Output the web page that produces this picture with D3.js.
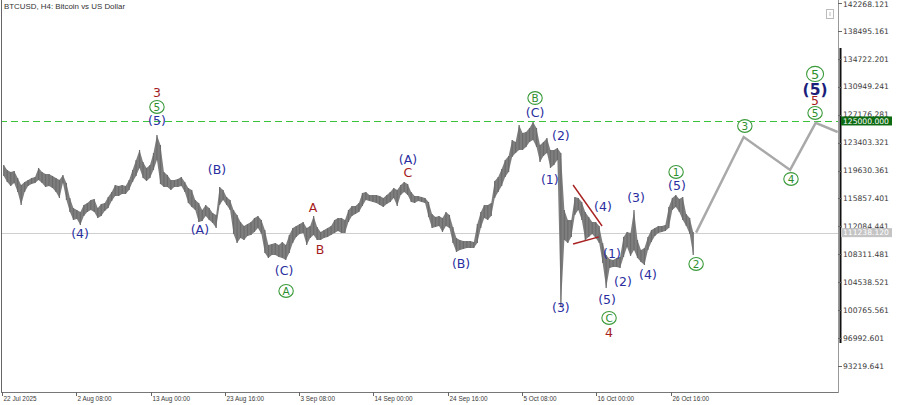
<!DOCTYPE html>
<html>
<head>
<meta charset="utf-8">
<script src="https://cdn.jsdelivr.net/npm/d3@7"></script>
<style>
body { margin: 0; background: #fff; }
svg { display: block; font-family: "Liberation Sans", Arial, sans-serif; }
</style>
</head>
<body>
<svg id="chart" width="900" height="405"></svg>
<script>
// BTCUSD H4 with Elliott wave marks, drawn as 12h high/low bars

var symbolTitle = "BTCUSD, H4:  Bitcoin vs US Dollar";
var firstBar = Date.UTC(2025, 6, 22, 16);
var barHours = 12;

// 12h highs and lows
var highs = [120380,119710,119440,119570,118630,117680,118090,118360,118630,118760,
  119980,119440,119170,119170,118900,118630,118360,119030,117950,115920,
  114570,114300,114030,114980,115250,115650,115790,114570,115110,115250,
  116060,116730,117680,117550,117680,117550,118360,119710,121060,122410,
  120790,119980,120380,122000,124430,123080,119440,119030,118360,118360,
  118490,118760,118090,117280,117000,115650,115250,114300,114980,114570,
  113900,113630,117410,117000,116060,115650,114300,113630,112680,112140,
  112410,112680,113220,113490,112950,111600,109570,109710,109840,109570,
  109980,109570,110930,111870,112140,112410,112680,111870,112140,113490,
  112010,111330,111600,111870,112140,112950,113220,113220,112950,114300,
  114840,114840,115250,116600,116730,116330,116330,116330,116190,115920,
  116330,116730,117280,117000,117680,118090,117820,116730,116190,116190,
  116060,115920,115380,113760,113360,113490,113220,114030,113630,112010,
  110520,110250,110110,110110,110110,109980,112410,114030,114980,114980,
  115250,118220,118760,119840,121060,121600,123760,123490,125790,124700,
  124840,125380,126190,125380,123080,123490,124030,122410,122410,122680,
  122000,114300,112950,112950,116060,115920,115380,114030,113360,112680,
  112680,112140,109840,108220,107680,107550,107820,107950,110660,111330,
  111200,114300,110250,108900,109170,110660,111600,111870,112140,112140,
  112280,114710,115920,116330,115790,116060,113760,113220,111330];

var lows = [118900,118090,117550,117950,116730,114980,116730,117550,117820,117950,
  118360,117950,117410,117550,117280,116730,115920,117950,115650,114030,
  112950,113090,112280,113490,114030,114300,114030,113220,113490,114170,
  114570,115520,116190,116190,116460,116460,117000,118090,118900,119980,
  118630,118220,118630,119710,121060,117820,117410,117410,117000,117410,
  117410,117550,116730,115250,114710,114300,112680,112820,113490,112950,
  112550,111870,114980,115650,114980,114300,111060,109840,110520,110250,
  110790,110930,111330,111870,111060,108490,107820,108220,108220,107950,
  107820,107550,108490,109840,110660,111060,111200,109570,110520,110930,
  110250,110250,110520,110660,110930,111200,111470,111200,111200,112680,
  113490,113760,114030,114840,115650,115520,115380,115250,114980,114710,
  115110,115380,115920,114840,116330,116730,116330,115380,115250,115520,
  115380,115250,113360,111870,112010,112140,111330,112140,111870,109840,
  108630,108900,109030,109170,109170,109170,109840,111870,113220,112950,
  113490,115920,116730,117550,118760,119440,121460,122000,122410,122410,
  122810,123490,123760,122810,120790,121600,122000,119980,120380,121060,
  101200,110250,109840,110660,113630,114300,112950,110250,110660,111060,
  110520,109840,107140,103760,106470,106600,106600,106470,107950,109300,
  108090,108900,107820,107280,106870,108900,109980,110790,111200,111330,
  111470,111870,114300,114710,114030,112950,112140,111060,108220];

var lastPrice = 111238.12;
var levelPrice = 126330;
var levelText = "125000.000";

var priceTicks = d3.range(14).map(function (i) { return 93219.641 + i * 3772.96; });

var timeTicks = ["2025-07-22T16:00Z", "2025-08-02T08:00Z", "2025-08-13T00:00Z", "2025-08-23T16:00Z",
  "2025-09-03T08:00Z", "2025-09-14T00:00Z", "2025-09-24T16:00Z", "2025-10-05T08:00Z",
  "2025-10-16T00:00Z", "2025-10-26T16:00Z"];

// forecast path (grey)
var forecast = [["2025-10-30T08:00Z", 111238.12], ["2025-11-06T04:00Z", 124160],
  ["2025-11-12T20:00Z", 119710], ["2025-11-16T12:00Z", 126060], ["2025-11-19T16:00Z", 124840]];

// wave labels: [time, price, text]
var blueLabels = [
  ["2025-08-13T22:00Z", 126330, "(5)"], ["2025-08-02T21:00Z", 111060, "(4)"],
  ["2025-08-20T02:00Z", 111600, "(A)"], ["2025-08-22T13:00Z", 119710, "(B)"],
  ["2025-09-01T04:00Z", 106060, "(C)"], ["2025-09-18T23:00Z", 121060, "(A)"],
  ["2025-09-26T14:00Z", 107010, "(B)"], ["2025-10-07T05:00Z", 127540, "(C)"],
  ["2025-10-10T22:00Z", 124300, "(2)"], ["2025-10-09T08:00Z", 118360, "(1)"],
  ["2025-10-10T22:00Z", 101060, "(3)"], ["2025-10-16T23:00Z", 114710, "(4)"],
  ["2025-10-18T06:00Z", 108360, "(1)"], ["2025-10-19T20:00Z", 104580, "(2)"],
  ["2025-10-17T13:00Z", 102140, "(5)"], ["2025-10-21T17:00Z", 115920, "(3)"],
  ["2025-10-23T10:00Z", 105520, "(4)"], ["2025-10-27T14:00Z", 117550, "(5)"]
];
var redLabels = [
  ["2025-08-13T22:00Z", 130110, "3"], ["2025-09-05T08:00Z", 114570, "A"],
  ["2025-09-06T08:00Z", 108900, "B"], ["2025-09-18T23:00Z", 119300, "C"],
  ["2025-10-17T20:00Z", 97690, "4"], ["2025-11-16T10:00Z", 129030, "5"]
];
var greenCircles = [
  ["2025-08-13T22:00Z", 128220, "5"], ["2025-09-01T11:00Z", 103360, "A"],
  ["2025-10-07T05:00Z", 129430, "B"], ["2025-10-17T20:00Z", 99710, "C"],
  ["2025-10-27T11:00Z", 119440, "1"], ["2025-10-30T08:00Z", 107010, "2"],
  ["2025-11-06T08:00Z", 125650, "3"], ["2025-11-12T23:00Z", 118490, "4"],
  ["2025-11-16T10:00Z", 127410, "5"]
];
var majorLabels = [["2025-11-16T10:00Z", 130650, "(5)"]];
var majorCircles = [["2025-11-16T10:00Z", 132680, "5"]];

// red triangle lines
var trendLines = [
  [["2025-10-12T16:00Z", 117680], ["2025-10-16T20:00Z", 112140]],
  [["2025-10-12T16:00Z", 109710], ["2025-10-16T09:00Z", 110660]]
];

var width = 900, height = 405;
var plotRight = 838, plotBottom = 392;

var x = d3.scaleUtc()
  .domain([firstBar, firstBar + 2881 * 3600e3])
  .range([2, plotRight]);
var y = d3.scaleLinear()
  .domain([93219.641, 142268.121])
  .range([366, 3]);

var svg = d3.select("#chart");

svg.append("defs").append("clipPath").attr("id", "plot")
  .append("rect").attr("x", 2).attr("y", 0).attr("width", plotRight - 2).attr("height", plotBottom);

var plot = svg.append("g").attr("clip-path", "url(#plot)");

// current price line
plot.append("line")
  .attr("x1", 0).attr("x2", plotRight)
  .attr("y1", Math.round(y(lastPrice)) + 0.5).attr("y2", Math.round(y(lastPrice)) + 0.5)
  .attr("stroke", "#cfcfcf");

// level line
plot.append("line")
  .attr("x1", 0).attr("x2", plotRight)
  .attr("y1", Math.round(y(levelPrice)) + 0.5).attr("y2", Math.round(y(levelPrice)) + 0.5)
  .attr("stroke", "#3cc13c").attr("stroke-dasharray", "7,4");

// bars: a thin ribbon through the bar centres plus a high-low stroke per bar
var half = barHours * 3600e3 / 2;
var bars = highs.map(function (h, i) {
  return { t: firstBar + i * barHours * 3600e3 + half, high: h, low: lows[i] };
});
plot.append("path")
  .datum(bars)
  .attr("fill", "#7e7e7e")
  .attr("d", d3.area()
    .x(function (d) { return x(d.t); })
    .y0(function (d) { return y(d.low); })
    .y1(function (d) { return y(d.high); }));
plot.selectAll(".bar")
  .data(bars)
  .enter().append("line")
  .attr("class", "bar")
  .attr("x1", function (d) { return x(d.t); })
  .attr("x2", function (d) { return x(d.t); })
  .attr("y1", function (d) { return y(d.high); })
  .attr("y2", function (d) { return y(d.low); })
  .attr("stroke", "#6c6c6c")
  .attr("stroke-width", 1.2);

// forecast
plot.append("path")
  .datum(forecast)
  .attr("fill", "none")
  .attr("stroke", "#a9a9a9")
  .attr("stroke-width", 2.5)
  .attr("d", d3.line()
    .x(function (d) { return x(new Date(d[0])); })
    .y(function (d) { return y(d[1]); }));

// triangle
plot.selectAll(".tri")
  .data(trendLines)
  .enter().append("line")
  .attr("class", "tri")
  .attr("x1", function (d) { return x(new Date(d[0][0])); })
  .attr("y1", function (d) { return y(d[0][1]); })
  .attr("x2", function (d) { return x(new Date(d[1][0])); })
  .attr("y2", function (d) { return y(d[1][1]); })
  .attr("stroke", "#a82020").attr("stroke-width", 1.4);

// labels
function addText(data, color, size, weight) {
  plot.selectAll(null)
    .data(data)
    .enter().append("text")
    .attr("x", function (d) { return x(new Date(d[0])); })
    .attr("y", function (d) { return y(d[1]); })
    .attr("dy", "0.36em")
    .attr("text-anchor", "middle")
    .style("font-family", "'DejaVu Sans', sans-serif")
    .style("font-size", size + "px")
    .style("font-weight", weight)
    .attr("fill", color)
    .text(function (d) { return d[2]; });
}
addText(blueLabels, "#2a2ea0", 12.5, "normal");
addText(redLabels, "#a51c1c", 12.5, "normal");
addText(majorLabels, "#1c1f7a", 15.5, "bold");

function addCircles(data, rx, ry, size) {
  var g = plot.selectAll(null)
    .data(data)
    .enter().append("g")
    .attr("transform", function (d) { return "translate(" + x(new Date(d[0])) + "," + y(d[1]) + ")"; });
  g.append("ellipse").attr("rx", rx).attr("ry", ry)
    .attr("fill", "#fff").attr("stroke", "#3a9a3a").attr("stroke-width", 1.1);
  g.append("text")
    .attr("dy", "0.36em")
    .attr("text-anchor", "middle")
    .style("font-family", "'DejaVu Sans', sans-serif")
    .style("font-size", size + "px")
    .attr("fill", "#2f8f2f")
    .text(function (d) { return d[2]; });
}
addCircles(greenCircles, 7.2, 6.4, 10.5);
addCircles(majorCircles, 8.5, 7.6, 13);

// frame
svg.append("line").attr("x1", 1.5).attr("x2", 1.5).attr("y1", 0).attr("y2", plotBottom)
  .attr("stroke", "#666");
svg.append("line").attr("x1", 1).attr("x2", plotRight + 1).attr("y1", plotBottom + 0.5).attr("y2", plotBottom + 0.5)
  .attr("stroke", "#777");
svg.append("line").attr("x1", plotRight + 0.5).attr("x2", plotRight + 0.5).attr("y1", 0).attr("y2", plotBottom + 1)
  .attr("stroke", "#999");
svg.append("line").attr("x1", plotRight + 2.5).attr("x2", plotRight + 2.5).attr("y1", 48).attr("y2", 343)
  .attr("stroke", "#111").attr("stroke-width", 2);

// title
svg.append("text").attr("x", 4).attr("y", 9)
  .style("font-size", "7.9px").attr("fill", "#333")
  .text(symbolTitle);

// small icon top right
svg.append("rect").attr("x", 826.5).attr("y", 9.5).attr("width", 7).attr("height", 9)
  .attr("fill", "#fff").attr("stroke", "#bbb");
svg.append("line").attr("x1", 830).attr("x2", 830).attr("y1", 12).attr("y2", 16)
  .attr("stroke", "#bbb");

// price axis
var yAxis = svg.append("g").attr("class", "y-axis")
  .style("font-family", "'DejaVu Sans', sans-serif");
yAxis.selectAll(".tk")
  .data(priceTicks)
  .enter().append("line")
  .attr("x1", plotRight).attr("x2", plotRight + 4)
  .attr("y1", function (d) { return Math.round(y(d)) + 0.5; })
  .attr("y2", function (d) { return Math.round(y(d)) + 0.5; })
  .attr("stroke", "#666");
yAxis.selectAll(".lb")
  .data(priceTicks)
  .enter().append("text")
  .attr("x", plotRight + 5)
  .attr("y", function (d) { return Math.max(y(d), 4); })
  .attr("dy", "0.35em")
  .style("font-size", "7.6px")
  .attr("fill", "#3a3a3a")
  .text(function (d) { return d3.format(".3f")(d); });

function priceTag(price, text, bg) {
  var yy = y(price);
  yAxis.append("rect").attr("x", plotRight + 3).attr("y", yy - 4.5).attr("width", 51).attr("height", 9)
    .attr("fill", bg);
  yAxis.append("text").attr("x", plotRight + 5).attr("y", yy).attr("dy", "0.35em")
    .style("font-size", "7.6px").attr("fill", "#fff").text(text);
}
priceTag(levelPrice, levelText, "#0d6b12");
priceTag(lastPrice, d3.format(".3f")(lastPrice), "#c4c4c4");

// time axis
var fmtFirst = d3.utcFormat("%-d %b %Y"), fmt = d3.utcFormat("%-d %b %H:%M");
var xAxis = svg.append("g").attr("class", "x-axis");
timeTicks.forEach(function (s, i) {
  var t = new Date(s), xx = Math.round(x(t)) + 0.5;
  xAxis.append("line").attr("x1", xx).attr("x2", xx).attr("y1", plotBottom).attr("y2", plotBottom + 4)
    .attr("stroke", "#666");
  xAxis.append("text").attr("x", xx + 1).attr("y", 401)
    .style("font-size", "6.4px").attr("fill", "#3a3a3a")
    .text(i === 0 ? fmtFirst(t) : fmt(t));
});
</script>
</body>
</html>
